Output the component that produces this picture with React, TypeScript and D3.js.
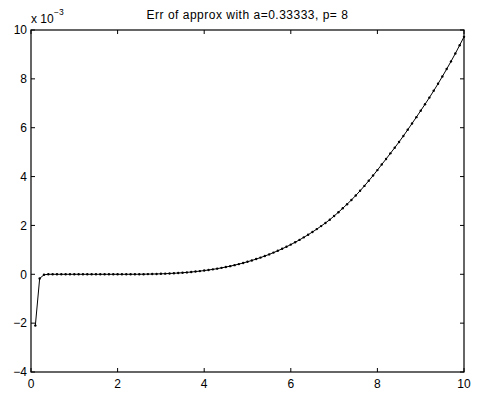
import React from "react";
import * as d3 from "d3";

const xValues: number[] = [
  0.1, 0.2, 0.3, 0.4, 0.5, 0.6, 0.7, 0.8, 0.9, 1.0,
  1.1, 1.2, 1.3, 1.4, 1.5, 1.6, 1.7, 1.8, 1.9, 2.0,
  2.1, 2.2, 2.3, 2.4, 2.5, 2.6, 2.7, 2.8, 2.9, 3.0,
  3.1, 3.2, 3.3, 3.4, 3.5, 3.6, 3.7, 3.8, 3.9, 4.0,
  4.1, 4.2, 4.3, 4.4, 4.5, 4.6, 4.7, 4.8, 4.9, 5.0,
  5.1, 5.2, 5.3, 5.4, 5.5, 5.6, 5.7, 5.8, 5.9, 6.0,
  6.1, 6.2, 6.3, 6.4, 6.5, 6.6, 6.7, 6.8, 6.9, 7.0,
  7.1, 7.2, 7.3, 7.4, 7.5, 7.6, 7.7, 7.8, 7.9, 8.0,
  8.1, 8.2, 8.3, 8.4, 8.5, 8.6, 8.7, 8.8, 8.9, 9.0,
  9.1, 9.2, 9.3, 9.4, 9.5, 9.6, 9.7, 9.8, 9.9, 10.0,
];

// error values in units of 1e-3
const errValues: number[] = [
  -2.1, -0.17, -0.02, 0, 0, 0, 0, 0, 0, 0,
  0, 0, 0, 0, 0, 0, 0, 0, 0, 0,
  0.000, 0.000, 0.001, 0.001, 0.002, 0.004, 0.007, 0.010, 0.014, 0.019,
  0.025, 0.033, 0.042, 0.052, 0.064, 0.078, 0.093, 0.111, 0.130, 0.152,
  0.176, 0.202, 0.231, 0.263, 0.297, 0.334, 0.374, 0.417, 0.463, 0.513,
  0.566, 0.623, 0.683, 0.747, 0.815, 0.887, 0.962, 1.043, 1.127, 1.216,
  1.310, 1.408, 1.511, 1.619, 1.731, 1.849, 1.973, 2.101, 2.235, 2.385,
  2.540, 2.702, 2.869, 3.042, 3.226, 3.417, 3.619, 3.827, 4.042, 4.264,
  4.493, 4.718, 4.951, 5.181, 5.418, 5.662, 5.915, 6.174, 6.432, 6.697,
  6.960, 7.232, 7.511, 7.799, 8.096, 8.401, 8.714, 9.037, 9.378, 9.720,
];

const xTicks: number[] = [0, 2, 4, 6, 8, 10];
const yTicks: number[] = [-4, -2, 0, 2, 4, 6, 8, 10];
const titleText = "Err of approx with a=0.33333, p= 8";

const W = 479;
const H = 394;
const left = 31;
const right = 464;
const top = 30;
const bottom = 372;
const tickLen = 4;
const font = "Arial, 'Liberation Sans', Helvetica, sans-serif";

export default function App() {
  const x = d3.scaleLinear().domain([0, 10]).range([left, right]);
  const y = d3.scaleLinear().domain([-4, 10]).range([bottom, top]);
  const pts = xValues.map((v, i) => [v, errValues[i]] as [number, number]);
  const line = d3
    .line<[number, number]>()
    .x((d) => x(d[0]))
    .y((d) => y(d[1]));

  return (
    <svg
      width={W}
      height={H}
      style={{ position: "absolute", left: 0, top: 0, background: "#fff" }}
      fontFamily={font}
    >
      <rect x={0} y={0} width={W} height={H} fill="#fff" />
      {xTicks.map((t) => (
        <g key={"xt" + t}>
          <line x1={x(t)} x2={x(t)} y1={bottom} y2={bottom - tickLen} stroke="#000" strokeWidth={1} />
          <line x1={x(t)} x2={x(t)} y1={top} y2={top + tickLen} stroke="#000" strokeWidth={1} />
          <text x={x(t)} y={388} textAnchor="middle" fontSize={12} fill="#000">
            {t}
          </text>
        </g>
      ))}
      {yTicks.map((t) => (
        <g key={"yt" + t}>
          <line x1={left} x2={left + tickLen} y1={y(t)} y2={y(t)} stroke="#000" strokeWidth={1} />
          <line x1={right} x2={right - tickLen} y1={y(t)} y2={y(t)} stroke="#000" strokeWidth={1} />
          <text x={27} y={y(t)} dy="0.36em" textAnchor="end" fontSize={12} fill="#000">
            {t === -4 || t === -2 ? "\u2212" + Math.abs(t) : t}
          </text>
        </g>
      ))}
      <rect x={left} y={top} width={right - left} height={bottom - top} fill="none" stroke="#000" strokeWidth={1.2} />
      <path d={line(pts) || ""} fill="none" stroke="#000" strokeWidth={1} />
      {pts.map((p, i) => (
        <circle key={i} cx={x(p[0])} cy={y(p[1])} r={1.2} fill="#000" />
      ))}
      <text x={31} y={23} fontSize={12} fill="#000">
        x 10
      </text>
      <text x={54} y={15} fontSize={8.5} fill="#000">
        −3
      </text>
      <text
        x={(left + right) / 2}
        y={19}
        textAnchor="middle"
        fontSize={12}
        letterSpacing={0.5}
        fill="#000"
      >
        {titleText}
      </text>
    </svg>
  );
}
